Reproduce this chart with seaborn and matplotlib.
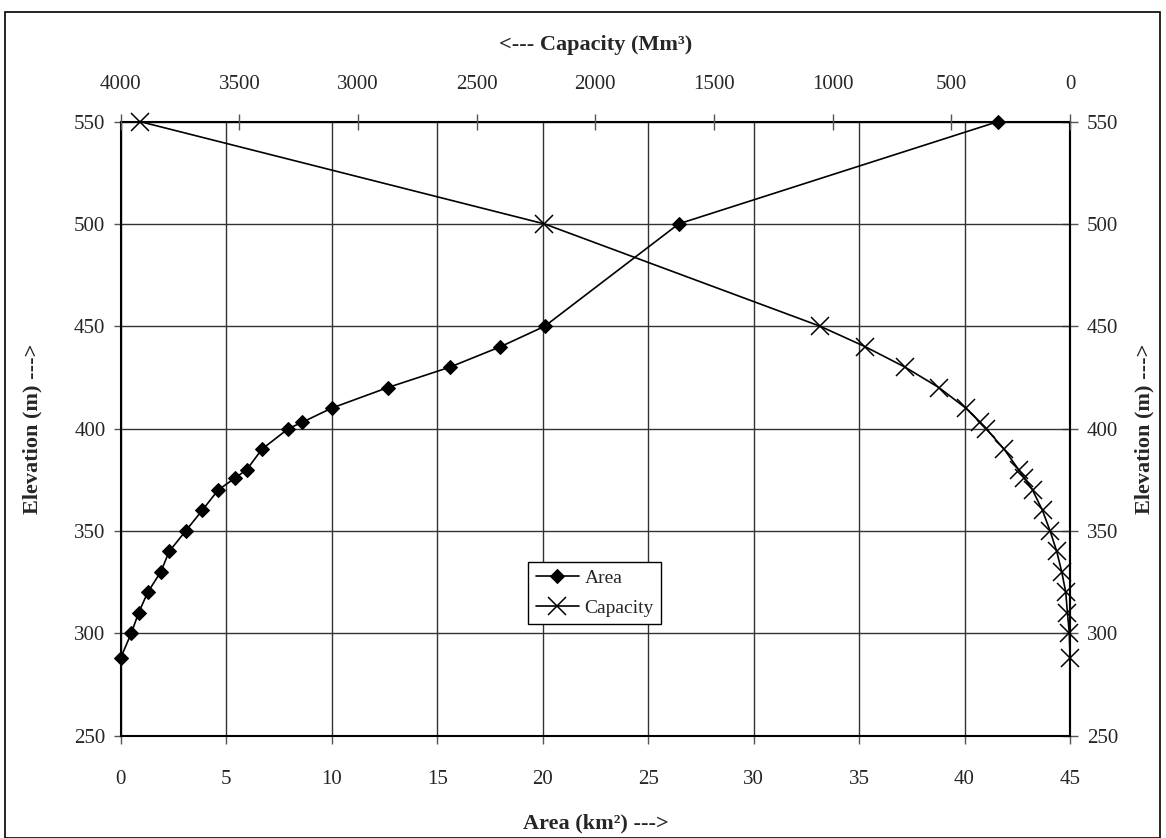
import seaborn as sns
import pandas as pd
import matplotlib.pyplot as plt
from matplotlib.patches import Rectangle

# Elevation (m) of each survey level
elevation = [288, 300, 310, 320, 330, 340, 350, 360, 370, 376, 380,
             390, 400, 403, 410, 420, 430, 440, 450, 500, 550]
# Water spread area (km2) at each level
area = [0, 0.5, 0.85, 1.28, 1.9, 2.3, 3.08, 3.86, 4.62, 5.44, 5.98,
        6.7, 7.95, 8.59, 10.0, 12.65, 15.6, 18.0, 20.1, 26.45, 41.6]
# Storage capacity (Mm3) at each level
capacity = [0, 3, 11, 18, 35, 56, 84, 116, 158, 193, 217,
            278, 354, 379, 439, 552, 695, 863, 1053, 2215, 3920]

area_ticks = list(range(0, 50, 5))
cap_ticks = list(range(0, 4500, 500))
elev_ticks = list(range(250, 600, 50))

df = pd.DataFrame({'Elevation': elevation, 'Area': area, 'Capacity': capacity})

sns.set_style('white')
plt.rcParams['font.family'] = ['Liberation Serif', 'DejaVu Serif']

fig, ax = plt.subplots(figsize=(11.66, 8.38), dpi=100)
fig.subplots_adjust(left=0.1035, right=0.9177, bottom=0.1221, top=0.855)

# area curve on the bottom axis
sns.lineplot(data=df, x='Area', y='Elevation', sort=False, estimator=None,
             marker='D', markersize=7, color='black', linewidth=1.2,
             markeredgecolor='black', label='Area', clip_on=False, ax=ax)
ax.set_xlim(0, 45)
ax.set_ylim(250, 550)
ax.set_xticks(area_ticks)
ax.set_yticks(elev_ticks)
ax.grid(True, color='#333333', linewidth=1)
ax.tick_params(axis='x', direction='out', length=6, width=1, pad=19,
               labelsize=15, bottom=True, color='#555555')
ax.tick_params(axis='y', direction='out', length=5, width=1, pad=6,
               labelsize=15, left=True, color='#555555')
ax.set_xlabel('Area (km²) --->', fontsize=16, fontweight='bold', labelpad=17)
ax.set_ylabel('Elevation (m) --->', fontsize=16, fontweight='bold', labelpad=23)
for s in ax.spines.values():
    s.set_color('black')
    s.set_linewidth(1.5)

# capacity curve on the reversed top axis
ax2 = ax.twiny()
sns.lineplot(data=df, x='Capacity', y='Elevation', sort=False, estimator=None,
             marker='x', markersize=13, markeredgewidth=1.1,
             markeredgecolor='black', color='black', clip_on=False,
             linewidth=1.2, label='Capacity', ax=ax2)
ax2.set_xlim(4000, 0)
ax2.set_xticks(cap_ticks)
ax2.tick_params(axis='x', direction='inout', length=12, width=1, pad=13.5,
                labelsize=15, top=True, color='#555555')
ax2.set_xlabel('<--- Capacity (Mm³)', fontsize=16, fontweight='bold', labelpad=18)
ax2.set_ylabel('')
ax2.grid(False)
for s in ax2.spines.values():
    s.set_visible(False)

# elevation repeated on the right
sec = ax.secondary_yaxis('right')
sec.set_yticks(elev_ticks)
sec.tick_params(direction='inout', length=12, width=1, pad=6,
                labelsize=15, color='#555555')
sec.set_ylabel('Elevation (m) --->', fontsize=16, fontweight='bold', labelpad=12)
sec.spines['right'].set_linewidth(1.5)

h1, l1 = ax.get_legend_handles_labels()
h2, l2 = ax2.get_legend_handles_labels()
if ax.get_legend() is not None:
    ax.get_legend().remove()
leg = ax2.legend(h1 + h2, l1 + l2, loc='upper left',
                 bbox_to_anchor=(0.429, 0.283), fontsize=14, frameon=True,
                 fancybox=False, framealpha=1, edgecolor='black',
                 handlelength=2.2, borderpad=0.4, labelspacing=0.6,
                 handletextpad=0.3, borderaxespad=0)
leg.get_frame().set_linewidth(1)

# outer chart border
fig.patches.append(Rectangle((5 / 1166, 0.5 / 838), 1155 / 1166, 825 / 838,
                             transform=fig.transFigure, fill=False,
                             edgecolor='black', linewidth=1.2))

fig.savefig('out.png', dpi=100)
